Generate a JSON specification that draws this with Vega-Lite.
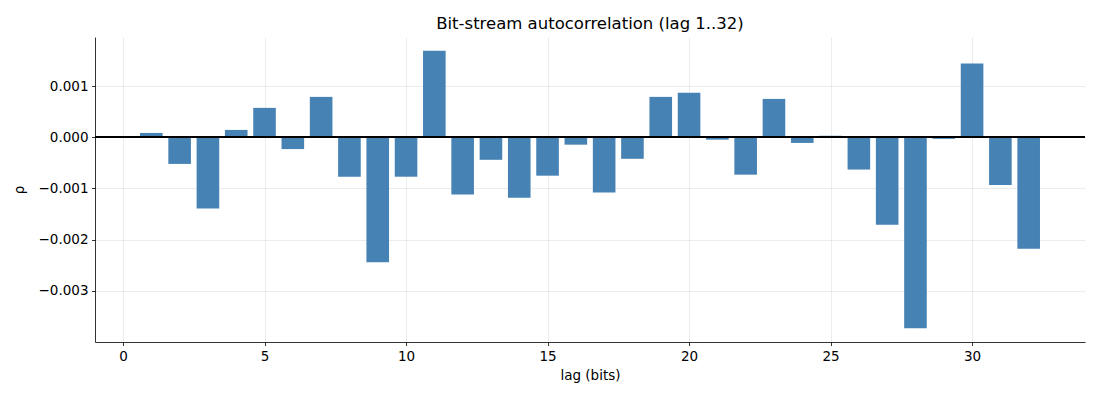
{
  "$schema": "https://vega.github.io/schema/vega-lite/v6.json",
  "autosize": "none",
  "width": 990,
  "height": 305,
  "padding": {"left": 95, "top": 37, "right": 15, "bottom": 58},
  "background": "white",
  "config": {
    "font": "DejaVu Sans",
    "view": {"stroke": null},
    "axis": {
      "labelFont": "DejaVu Sans",
      "labelFontSize": 13.5,
      "labelColor": "black",
      "titleFont": "DejaVu Sans",
      "titleFontSize": 13.5,
      "titleFontWeight": "normal",
      "titleColor": "black",
      "domainColor": "black",
      "domainWidth": 0.8,
      "tickColor": "black",
      "tickWidth": 0.8,
      "tickSize": 3.5,
      "labelPadding": 3.5,
      "grid": true,
      "gridColor": "#b0b0b0",
      "gridOpacity": 0.3,
      "gridWidth": 0.8,
      "zindex": 1
    }
  },
  "title": {
    "text": "Bit-stream autocorrelation (lag 1..32)",
    "font": "DejaVu Sans",
    "fontSize": 16.5,
    "fontWeight": "normal",
    "color": "black",
    "offset": 5
  },
  "data": {
    "values": [
      {"lag": 1, "rho": 0.000085},
      {"lag": 2, "rho": -0.00052},
      {"lag": 3, "rho": -0.00139},
      {"lag": 4, "rho": 0.000144},
      {"lag": 5, "rho": 0.000575},
      {"lag": 6, "rho": -0.00023},
      {"lag": 7, "rho": 0.00079},
      {"lag": 8, "rho": -0.00077},
      {"lag": 9, "rho": -0.00244},
      {"lag": 10, "rho": -0.00077},
      {"lag": 11, "rho": 0.00169},
      {"lag": 12, "rho": -0.00112},
      {"lag": 13, "rho": -0.00044},
      {"lag": 14, "rho": -0.00118},
      {"lag": 15, "rho": -0.00075},
      {"lag": 16, "rho": -0.000144},
      {"lag": 17, "rho": -0.00108},
      {"lag": 18, "rho": -0.00042},
      {"lag": 19, "rho": 0.00079},
      {"lag": 20, "rho": 0.00087},
      {"lag": 21, "rho": -0.000046},
      {"lag": 22, "rho": -0.00073},
      {"lag": 23, "rho": 0.00075},
      {"lag": 24, "rho": -0.00011},
      {"lag": 25, "rho": 0.00003},
      {"lag": 26, "rho": -0.00063},
      {"lag": 27, "rho": -0.00171},
      {"lag": 28, "rho": -0.00373},
      {"lag": 29, "rho": -0.00003},
      {"lag": 30, "rho": 0.00144},
      {"lag": 31, "rho": -0.00093},
      {"lag": 32, "rho": -0.00218}
    ]
  },
  "layer": [
    {
      "mark": {"type": "bar", "color": "#4682b4", "width": 22.6},
      "encoding": {
        "x": {
          "field": "lag",
          "type": "quantitative",
          "title": "lag (bits)",
          "scale": {"domain": [-0.99, 33.99], "nice": false, "zero": false, "padding": 0},
          "axis": {"values": [0, 5, 10, 15, 20, 25, 30], "format": "d", "titlePadding": 6}
        },
        "y": {
          "field": "rho",
          "type": "quantitative",
          "title": "ρ",
          "scale": {"domain": [-0.004, 0.00196], "nice": false, "zero": false},
          "axis": {"values": [-0.003, -0.002, -0.001, 0, 0.001], "format": ".3f", "titlePadding": 12}
        },
        "y2": {"datum": 0}
      }
    },
    {
      "mark": {"type": "rule", "color": "black", "strokeWidth": 0.9},
      "encoding": {"y": {"datum": 0}}
    }
  ]
}
